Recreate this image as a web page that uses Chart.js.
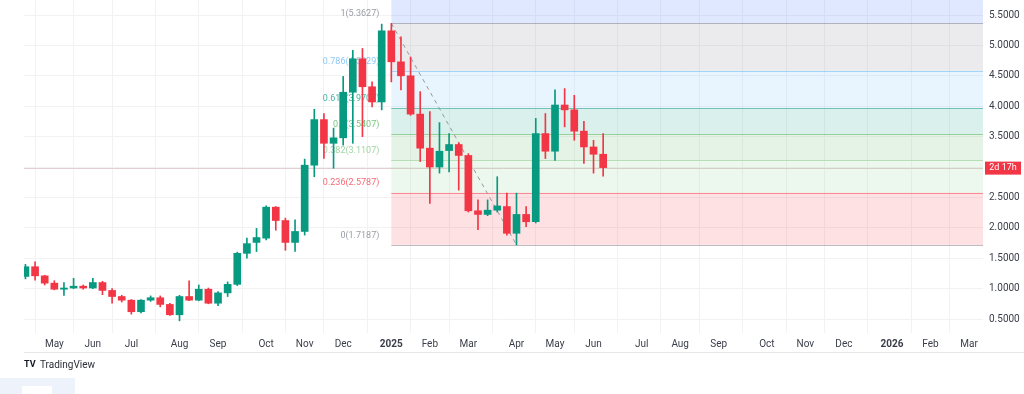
<!DOCTYPE html>
<html lang="en">
<head>
    <meta charset="UTF-8">
    <title>Weekly chart with Fibonacci retracement</title>
    <style>
        body { margin: 0; background: #ffffff; }
        #wrap { width: 1024px; height: 394px; position: relative; }
    </style>
    <script src="https://cdn.jsdelivr.net/npm/chart.js"></script>
</head>
<body>
    <div id="wrap"><canvas id="priceChart" width="1024" height="394"></canvas></div>

    <script>
        // weekly candles, first week starts Mon 15 Apr 2024
        const firstWeek = Date.UTC(2024, 3, 15);
        const totalWeeks = 100;

        const opens  = [1.20, 1.36, 1.21, 1.09, 0.99, 1.01, 1.04, 1.01, 1.10, 0.97, 0.87, 0.81, 0.62, 0.81, 0.85, 0.74,
                        0.57, 0.87, 0.81, 0.99, 0.76, 0.93, 1.07, 1.58, 1.76, 1.83, 2.34, 2.12, 1.76, 1.94, 3.03, 3.78,
                        3.39, 3.48, 4.23, 4.78, 4.32, 4.07, 5.24, 4.73, 4.50, 3.87, 3.31, 3.00, 3.27, 3.37, 3.19, 2.28,
                        2.22, 2.29, 2.35, 1.91, 2.22, 2.10, 3.55, 3.26, 4.02, 3.94, 3.59, 3.33, 3.21];
        const highs  = [1.40, 1.44, 1.22, 1.13, 1.10, 1.17, 1.06, 1.17, 1.12, 1.00, 0.89, 0.82, 0.82, 0.88, 0.88, 0.76,
                        0.89, 1.13, 1.06, 1.01, 0.95, 1.11, 1.60, 1.83, 1.99, 2.36, 2.35, 2.16, 2.13, 3.13, 3.95, 3.88,
                        3.64, 4.49, 4.92, 4.95, 4.40, 5.35, 5.3627, 5.14, 4.81, 4.24, 3.91, 3.73, 3.55, 3.40, 3.22, 2.46,
                        2.46, 2.84, 2.57, 2.57, 2.35, 3.80, 3.88, 4.27, 4.29, 4.18, 3.75, 3.44, 3.55];
        const lows   = [1.16, 1.14, 1.06, 0.98, 0.89, 1.00, 0.99, 1.00, 0.90, 0.76, 0.78, 0.58, 0.60, 0.79, 0.70, 0.56,
                        0.47, 0.80, 0.80, 0.75, 0.72, 0.87, 1.05, 1.50, 1.61, 1.80, 1.96, 1.63, 1.61, 1.88, 2.84, 3.14,
                        2.98, 3.36, 3.39, 3.50, 3.99, 3.94, 4.40, 4.27, 3.85, 3.09, 2.40, 2.90, 2.92, 2.62, 2.26, 1.97,
                        2.20, 2.26, 1.88, 1.7187, 2.02, 2.08, 3.14, 3.11, 3.66, 3.44, 3.06, 2.90, 2.85];
        const closes = [1.36, 1.21, 1.09, 0.99, 1.01, 1.04, 1.01, 1.10, 0.97, 0.87, 0.81, 0.62, 0.81, 0.85, 0.74, 0.57,
                        0.87, 0.81, 0.99, 0.76, 0.93, 1.07, 1.58, 1.74, 1.84, 2.34, 2.12, 1.76, 1.94, 3.03, 3.78, 3.39,
                        3.48, 4.23, 4.78, 4.32, 4.07, 5.24, 4.73, 4.50, 3.87, 3.31, 3.00, 3.26, 3.37, 3.19, 2.28, 2.22,
                        2.29, 2.36, 1.91, 2.22, 2.10, 3.55, 3.26, 4.02, 3.94, 3.59, 3.33, 3.21, 2.99];

        const priceTicks = [0.5, 1.0, 1.5, 2.0, 2.5, 3.0, 3.5, 4.0, 4.5, 5.0, 5.5];
        const monthNames = ['Jan', 'Feb', 'Mar', 'Apr', 'May', 'Jun', 'Jul', 'Aug', 'Sep', 'Oct', 'Nov', 'Dec'];

        // fibonacci retracement drawn from the Jan high to the Apr low
        const fibHigh = 5.3627;
        const fibLow = 1.7187;
        const fibFromWeek = 38;
        const fibToWeek = 51;
        const fibRatios = [0, 0.236, 0.382, 0.5, 0.618, 0.786, 1, 1.618];
        const fibColors = ['#787b86', '#f23645', '#81c784', '#4caf50', '#089981', '#64b5f6', '#787b86', '#2962ff'];

        const UP = '#089981';
        const DOWN = '#f23645';

        // month labels on the first week of each month
        const monthTicks = {};
        let prevMonth = new Date(firstWeek).getUTCMonth();
        for (let i = 1; i < totalWeeks; i++) {
            const d = new Date(firstWeek + i * 7 * 86400000);
            const m = d.getUTCMonth();
            if (m !== prevMonth) {
                monthTicks[i] = m === 0 ? String(d.getUTCFullYear()) : monthNames[m];
            }
            prevMonth = m;
        }

        const wickData = highs.map((h, i) => ({ x: i, y: [lows[i], h] }));
        const bodyData = opens.map((o, i) => ({ x: i, y: [o, closes[i]] }));
        const candleColor = ctx => closes[ctx.dataIndex] >= opens[ctx.dataIndex] ? UP : DOWN;

        function hexA(hex, a) {
            const n = parseInt(hex.slice(1), 16);
            return `rgba(${n >> 16},${(n >> 8) & 255},${n & 255},${a})`;
        }

        function noEdgePadding(scale) {
            scale.paddingTop = 0;
            scale.paddingBottom = 0;
            scale.paddingLeft = 0;
            scale.paddingRight = 0;
        }

        const fibPlugin = {
            id: 'fib',
            beforeDatasetsDraw(chart) {
                const { ctx, chartArea, scales } = chart;
                const x0 = scales.x.getPixelForValue(fibFromWeek);
                const levels = fibRatios.map(r => fibLow + r * (fibHigh - fibLow));
                ctx.save();
                ctx.beginPath();
                ctx.rect(chartArea.left, chartArea.top, chartArea.right - chartArea.left, chartArea.bottom - chartArea.top);
                ctx.clip();

                // last close price line
                const py = Math.round(scales.y.getPixelForValue(closes[closes.length - 1])) + 0.5;
                ctx.strokeStyle = '#e3cfd1';
                ctx.lineWidth = 1;
                ctx.beginPath();
                ctx.moveTo(chartArea.left, py);
                ctx.lineTo(chartArea.right, py);
                ctx.stroke();

                for (let i = 0; i < levels.length - 1; i++) {
                    const yA = scales.y.getPixelForValue(levels[i]);
                    const yB = scales.y.getPixelForValue(levels[i + 1]);
                    ctx.fillStyle = hexA(fibColors[i + 1], 0.15);
                    ctx.fillRect(x0, yB, chartArea.right - x0, yA - yB);
                }
                levels.forEach((v, i) => {
                    const y = Math.round(scales.y.getPixelForValue(v)) + 0.5;
                    ctx.strokeStyle = hexA(fibColors[i], 0.5);
                    ctx.beginPath();
                    ctx.moveTo(x0, y);
                    ctx.lineTo(chartArea.right, y);
                    ctx.stroke();
                });
                ctx.restore();

                ctx.save();
                ctx.font = '9px Roboto, sans-serif';
                ctx.textAlign = 'right';
                ctx.textBaseline = 'bottom';
                levels.forEach((v, i) => {
                    if (fibRatios[i] > 1) return;
                    const y = scales.y.getPixelForValue(v);
                    ctx.fillStyle = hexA(fibColors[i], 0.75);
                    ctx.fillText(`${fibRatios[i]}(${v.toFixed(4)})`, x0 - 12, y - 5);
                });
                ctx.restore();
            },
            afterDraw(chart) {
                const { ctx, chartArea, scales } = chart;
                ctx.save();
                // countdown tag on the price scale
                const py = scales.y.getPixelForValue(closes[closes.length - 1]);
                ctx.fillStyle = DOWN;
                ctx.fillRect(chartArea.right + 2, py - 6, 36, 13);
                ctx.fillStyle = '#ffffff';
                ctx.font = '9px Roboto, sans-serif';
                ctx.textAlign = 'center';
                ctx.textBaseline = 'middle';
                ctx.fillText('2d 17h', chartArea.right + 20, py + 0.5);

                // time axis bottom border
                const by = scales.x.bottom + 0.5;
                ctx.strokeStyle = '#e6e6e6';
                ctx.beginPath();
                ctx.moveTo(chartArea.left, by);
                ctx.lineTo(1024, by);
                ctx.stroke();

                // watermark
                ctx.fillStyle = '#131722';
                ctx.textAlign = 'left';
                ctx.font = 'bold 9px Roboto, sans-serif';
                ctx.fillText('TV', 24, 365);
                ctx.font = '10px Roboto, sans-serif';
                ctx.fillStyle = '#2a2e39';
                ctx.fillText('TradingView', 40, 365);

                ctx.fillStyle = '#eef3fb';
                ctx.fillRect(0, 378, 75, 16);
                ctx.fillStyle = '#ffffff';
                ctx.fillRect(22, 386, 30, 8);
                ctx.restore();
            }
        };

        const ctx = document.getElementById('priceChart').getContext('2d');
        const priceChart = new Chart(ctx, {
            type: 'bar',
            data: {
                datasets: [
                    {
                        type: 'line',
                        data: [{ x: fibFromWeek, y: fibHigh }, { x: fibToWeek, y: fibLow }],
                        borderColor: '#9598a1',
                        borderWidth: 1,
                        borderDash: [4, 4],
                        pointRadius: 0,
                        order: 3
                    },
                    {
                        data: wickData,
                        backgroundColor: candleColor,
                        barThickness: 1,
                        grouped: false,
                        order: 2
                    },
                    {
                        data: bodyData,
                        backgroundColor: candleColor,
                        barThickness: 7,
                        minBarLength: 1,
                        grouped: false,
                        order: 1
                    }
                ]
            },
            options: {
                responsive: false,
                animation: false,
                layout: { padding: { left: 24, right: 0, top: 0, bottom: 42 } },
                plugins: { legend: { display: false }, tooltip: { enabled: false } },
                scales: {
                    x: {
                        type: 'linear',
                        offset: false,
                        min: -0.15,
                        max: 99.45,
                        afterBuildTicks: scale => {
                            scale.ticks = Object.keys(monthTicks).map(k => ({ value: Number(k) }));
                        },
                        afterFit: scale => { scale.height = 19; noEdgePadding(scale); },
                        grid: { color: '#f2f2f4', drawTicks: false },
                        border: { display: false },
                        ticks: {
                            autoSkip: false,
                            maxRotation: 0,
                            padding: 5,
                            color: '#3a3e49',
                            font: c => ({
                                family: 'Roboto, sans-serif',
                                size: 10,
                                weight: c.tick && /^\d{4}$/.test(c.tick.label) ? 'bold' : 'normal'
                            }),
                            callback: v => monthTicks[v] || ''
                        }
                    },
                    y: {
                        position: 'right',
                        min: 0.27,
                        max: 5.747,
                        afterBuildTicks: scale => {
                            scale.ticks = priceTicks.map(v => ({ value: v }));
                        },
                        afterFit: scale => { scale.width = 41; noEdgePadding(scale); },
                        grid: { color: '#f2f2f4', drawTicks: false },
                        border: { display: false },
                        ticks: {
                            padding: 6,
                            color: '#3a3e49',
                            font: { family: 'Roboto, sans-serif', size: 10 },
                            callback: v => v.toFixed(4)
                        }
                    }
                }
            },
            plugins: [fibPlugin]
        });
    </script>
</body>
</html>
